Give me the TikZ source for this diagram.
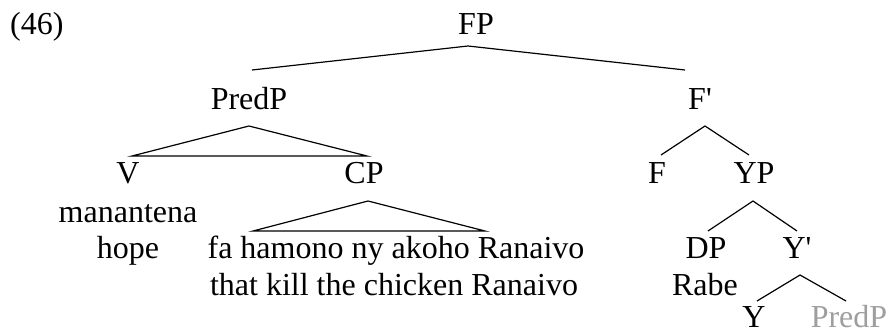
\documentclass[tikz,border=0pt]{standalone}
\usepackage{fontspec}
\setmainfont{Liberation Serif}[Ligatures=TeXOff]
\begin{document}
\begin{tikzpicture}[x=1pt,y=1pt,
  lab/.style={anchor=base,inner sep=0pt,font=\fontsize{32}{37}\selectfont},
  edge/.style={line width=1.2pt,line join=miter}]
\useasboundingbox (0,0) rectangle (888,-334);
\node[lab,anchor=base west] (ex) at (10,-35) {(46)};
\node[lab] (FP) at (476,-35) {FP};
\node[lab] (PredP) at (249,-110) {PredP};
\node[lab] (Fb) at (700,-110) {F'};
\node[lab] (V) at (128,-183) {V};
\node[lab] (CP) at (364,-183) {CP};
\node[lab] (man) at (128,-222) {manantena};
\node[lab] (hope) at (128,-258) {hope};
\node[lab] (fa) at (396,-258) {fa hamono ny akoho Ranaivo};
\node[lab] (that) at (394,-295) {that kill the chicken Ranaivo};
\node[lab] (F) at (657,-183) {F};
\node[lab] (YP) at (754,-183) {YP};
\node[lab] (DP) at (706,-258) {DP};
\node[lab] (Yb) at (797,-258) {Y'};
\node[lab] (Rabe) at (705,-295) {Rabe};
\node[lab] (Y) at (754,-327) {Y};
\node[lab,text=black!38] (PredP2) at (849,-327) {PredP};
% FP
\draw[edge] ([shift={(3,40)}]PredP.base) -- ([shift={(-8,-11)}]FP.base) -- ([shift={(-15,40)}]Fb.base);
% PredP triangle
\draw[edge] ([shift={(0,-16)}]PredP.base) -- ([shift={(4,27)}]V.base) -- ([shift={(3,27)}]CP.base) -- cycle;
% F'
\draw[edge] ([shift={(4,28)}]F.base) -- ([shift={(5,-16)}]Fb.base) -- ([shift={(-5,28)}]YP.base);
% CP triangle
\draw[edge] ([shift={(4,-18)}]CP.base) -- ([shift={(-143,27)}]fa.base) -- ([shift={(89,27)}]fa.base) -- cycle;
% YP
\draw[edge] ([shift={(2,27)}]DP.base) -- ([shift={(-1,-18)}]YP.base) -- ([shift={(0,27)}]Yb.base);
% Y'
\draw[edge] ([shift={(3,26)}]Y.base) -- ([shift={(3,-17)}]Yb.base) -- ([shift={(-3,26)}]PredP2.base);
\end{tikzpicture}
\end{document}
